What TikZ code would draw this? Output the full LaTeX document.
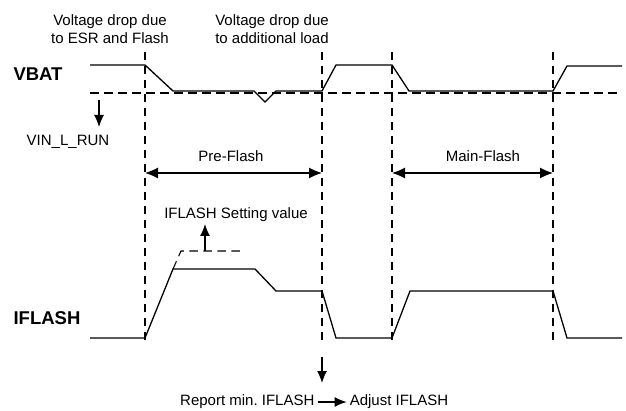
\documentclass[tikz,border=0pt]{standalone}
\usepackage{fontspec}
\setmainfont{Liberation Sans}
\usetikzlibrary{arrows.meta,positioning}
\tikzset{
    sigline/.style={line width=1.3pt, line join=miter},
    guide/.style={line width=1.1pt, dash pattern=on 8.5pt off 5.5pt},
    spanarrow/.style={{Latex[length=13pt,width=11pt]}-{Latex[length=13pt,width=11pt]}, line width=1.2pt},
    pointarrow/.style={-{Latex[length=12pt,width=10pt]}, line width=1.2pt},
    txt/.style={font=\fontsize{15}{18}\selectfont, inner sep=0pt, align=center},
    signame/.style={font=\fontsize{18.5}{22}\selectfont\bfseries, inner sep=0pt}
}
\begin{document}
\begin{tikzpicture}[x=1pt, y=-1pt]
    \useasboundingbox (0,0) rectangle (626,411);

    % labels
    \node[txt] (drop1) at (110,29) {Voltage drop due\\to ESR and Flash};
    \node[txt] (drop2) at (272,29) {Voltage drop due\\to additional load};
    \node[signame] (vbat) at (38,74) {VBAT};
    \node[signame] (iflash) at (47,318) {IFLASH};
    \node[txt] (vin) at (68,142) {VIN\_L\_RUN};
    \node[txt] (pre) at (231,156) {Pre-Flash};
    \node[txt] (main) at (483,156) {Main-Flash};
    \node[txt] (setv) at (236,215) {IFLASH Setting value};
    \node[txt, anchor=west] (rep) at (180,402) {Report min.\ IFLASH};
    \node[txt, right=35pt of rep] (adj) {Adjust IFLASH};

    % time markers
    \foreach \x/\n in {145/a,322/b,392/c,553/d} {
        \coordinate (top\n) at (\x,52);
        \coordinate (bot\n) at (\x,343);
        \draw[guide] (top\n) -- (bot\n);
    }

    % VIN_L_RUN level
    \coordinate (vl) at (90,93);
    \coordinate (vr) at (620,93);
    \draw[guide] (vl) -- (vr);
    \coordinate (vs) at (99,100);
    \coordinate (ve) at (99,127);
    \draw[pointarrow] (vs) -- (ve);

    % VBAT trace
    \draw[sigline] (90,65) -- (145,65) -- (173,91) -- (254,91) -- (265,102)
        -- (276,91) -- (322,91) -- (336,65) -- (392,65) -- (409,91)
        -- (553,91) -- (567,66) -- (622,66);

    % IFLASH trace
    \draw[sigline] (90,338) -- (145,338) -- (173,269) -- (255,269) -- (276,291)
        -- (322,291) -- (336,338) -- (392,338) -- (410,291) -- (553,291)
        -- (567,338) -- (622,338);
    \draw[guide] (173,269) -- (181,251) -- (240,251);
    \coordinate (ss) at (205,251);
    \coordinate (se) at (205,224);
    \draw[pointarrow] (ss) -- (se);

    % spans
    \coordinate (p1) at (145,173);
    \coordinate (p2) at (322,173);
    \coordinate (m1) at (392,173);
    \coordinate (m2) at (553,173);
    \draw[spanarrow] (p1) -- (p2);
    \draw[spanarrow] (m1) -- (m2);

    % report
    \coordinate (rs) at (322,357);
    \coordinate (re) at (322,383);
    \draw[pointarrow] (rs) -- (re);
    \draw[pointarrow, shorten <=3pt, shorten >=3pt] (rep) -- (adj);
\end{tikzpicture}
\end{document}
